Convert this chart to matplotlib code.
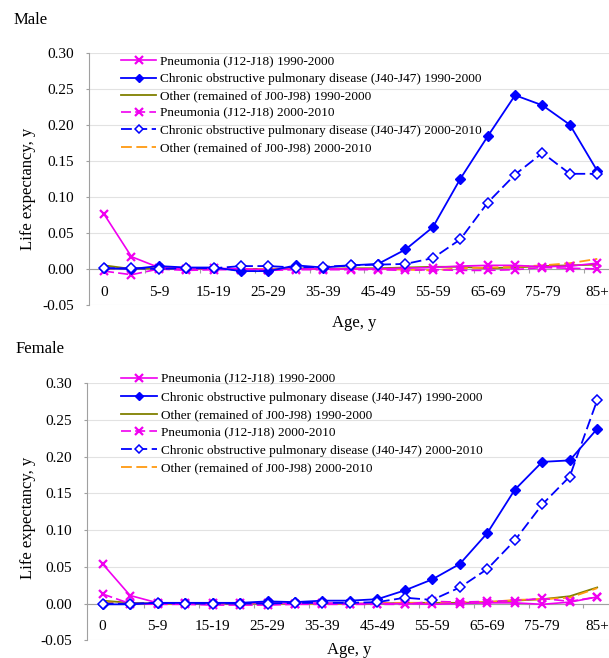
import numpy as np
import matplotlib
matplotlib.use("Agg")
import matplotlib.pyplot as plt

plt.rcParams['font.family'] = ['Liberation Serif', 'DejaVu Serif']

ages = ["0", "1-4", "5-9", "10-14", "15-19", "20-24", "25-29", "30-34", "35-39", "40-44",
        "45-49", "50-54", "55-59", "60-64", "65-69", "70-74", "75-79", "80-84", "85+"]

# male, life expectancy contribution (years)
m_pneu_90 = [0.076, 0.017, 0.002, 0.000, 0.001, 0.000, -0.001, 0.000, 0.000, 0.000,
             0.000, 0.001, 0.002, 0.004, 0.005, 0.005, 0.003, 0.004, 0.008]
m_copd_90 = [0.001, 0.000, 0.004, 0.002, 0.002, -0.003, -0.003, 0.005, 0.002, 0.005,
             0.007, 0.027, 0.058, 0.125, 0.184, 0.241, 0.227, 0.200, 0.136]
m_other_90 = [0.005, 0.000, 0.001, 0.000, 0.000, 0.000, 0.000, 0.001, 0.000, 0.001,
              0.001, 0.002, 0.003, 0.003, 0.001, 0.002, 0.004, 0.005, 0.006]
m_pneu_00 = [-0.003, -0.008, 0.000, -0.002, -0.001, -0.001, -0.002, -0.001, -0.001, -0.001,
             -0.001, -0.002, -0.001, -0.002, -0.002, -0.001, 0.002, 0.001, 0.000]
m_copd_00 = [0.001, 0.001, 0.000, 0.001, 0.001, 0.004, 0.004, 0.002, 0.003, 0.005,
             0.006, 0.007, 0.015, 0.041, 0.092, 0.131, 0.161, 0.132, 0.132]
m_other_00 = [0.000, 0.001, 0.001, 0.001, 0.000, 0.000, 0.000, 0.000, 0.000, 0.000,
              0.000, -0.001, -0.002, 0.001, 0.002, 0.003, 0.005, 0.008, 0.014]

# female
f_pneu_90 = [0.054, 0.011, 0.001, 0.001, 0.001, 0.001, 0.001, 0.000, 0.001, 0.000,
             0.000, 0.000, -0.001, 0.000, 0.001, 0.001, -0.001, 0.002, 0.009]
f_copd_90 = [-0.001, -0.001, 0.001, 0.001, 0.001, 0.001, 0.003, 0.002, 0.004, 0.004,
             0.006, 0.018, 0.033, 0.054, 0.096, 0.155, 0.193, 0.195, 0.238]
f_other_90 = [0.004, 0.001, 0.000, 0.000, 0.000, 0.000, 0.000, 0.000, 0.000, 0.000,
              0.000, 0.001, 0.001, 0.001, 0.002, 0.004, 0.006, 0.010, 0.022]
f_pneu_00 = [0.013, 0.000, -0.001, -0.001, -0.002, -0.002, -0.002, -0.001, -0.001, -0.001,
             -0.001, -0.001, 0.003, 0.002, 0.003, 0.004, 0.007, 0.003, 0.009]
f_copd_00 = [0.000, 0.000, 0.001, 0.000, 0.000, 0.000, 0.000, 0.001, 0.001, 0.001,
             0.002, 0.008, 0.005, 0.022, 0.047, 0.086, 0.135, 0.173, 0.277]
f_other_00 = [0.002, 0.000, 0.000, 0.000, 0.000, -0.001, -0.001, 0.000, 0.000, 0.000,
              0.001, 0.001, 0.001, 0.002, 0.002, 0.005, 0.006, 0.008, 0.021]

labels = ["Pneumonia (J12-J18) 1990-2000",
          "Chronic obstructive pulmonary disease (J40-J47) 1990-2000",
          "Other (remained of J00-J98) 1990-2000",
          "Pneumonia (J12-J18) 2000-2010",
          "Chronic obstructive pulmonary disease (J40-J47) 2000-2010",
          "Other (remained of J00-J98) 2000-2010"]

W, H = 609, 658
fig = plt.figure(figsize=(W / 100, H / 100), dpi=100)

magenta = '#F000F0'
blue = '#0000FF'
olive = '#808000'
orange = '#FF9A10'
dash = (6, 2.5)


def panel(rect, xlim, series, leg_anchor, spacing):
    ax = fig.add_axes(rect)
    x = np.arange(len(ages))
    p90, c90, o90, p00, c00, o00 = series
    ax.plot(x, p90, color=magenta, lw=1.2, marker='x', ms=6, mew=1.6, label=labels[0], zorder=4)
    ax.plot(x, c90, color=blue, lw=1.3, marker='D', ms=5, label=labels[1], zorder=5)
    ax.plot(x, o90, color=olive, lw=1.3, label=labels[2], zorder=3)
    ax.plot(x, p00, color=magenta, lw=1.2, marker='x', ms=6, mew=1.6, dashes=dash,
            label=labels[3], zorder=4)
    ax.plot(x, c00, color=blue, lw=1.3, marker='D', ms=5, mfc='white', mew=1.1, dashes=dash,
            label=labels[4], zorder=5)
    ax.plot(x, o00, color=orange, lw=1.3, dashes=dash, label=labels[5], zorder=3)

    ax.set_xlim(*xlim)
    ax.set_ylim(-0.05, 0.30)
    ax.set_yticks(np.arange(-0.05, 0.301, 0.05))
    ax.set_yticklabels(["%.2f" % v for v in np.arange(-0.05, 0.301, 0.05)])
    ax.set_xticks(x[::2])
    ax.set_xticklabels(ages[::2])
    ax.set_xticks(np.arange(1.5, 18, 2), minor=True)
    ax.tick_params(axis='x', which='major', length=0, pad=12, labelsize=11)
    ax.tick_params(axis='x', which='minor', length=3, width=0.8, color='#A0A0A0', direction='out')
    ax.tick_params(axis='y', length=2.5, width=0.8, color='#A0A0A0', pad=8, labelsize=11)

    ax.grid(axis='y', color='#E2E2E2', lw=0.8)
    ax.set_axisbelow(True)
    for s in ['top', 'right']:
        ax.spines[s].set_visible(False)
    ax.spines['left'].set_color('#A0A0A0')
    ax.spines['bottom'].set_color('#A0A0A0')
    ax.spines['bottom'].set_position(('data', 0))

    ax.legend(loc='upper left', bbox_to_anchor=leg_anchor, frameon=False, fontsize=9.5,
              borderpad=0, borderaxespad=0, handlelength=2.7, handletextpad=0.3,
              labelspacing=spacing, markerscale=0.85)
    return ax


panel([89 / W, 1 - 305 / H, 522 / W, 252.3 / H], (-0.55, 18.5),
      [m_pneu_90, m_copd_90, m_other_90, m_pneu_00, m_copd_00, m_other_00], (0.061, 0.988), 0.38)
panel([87 / W, 1 - 640.3 / H, 522 / W, 257 / H], (-0.57, 18.43),
      [f_pneu_90, f_copd_90, f_other_90, f_pneu_00, f_copd_00, f_other_00], (0.066, 1.038), 0.42)

fig.text(13.5 / W, 1 - 20 / H, "Male", ha='left', va='center', fontsize=12)
fig.text(15.5 / W, 1 - 349 / H, "Female", ha='left', va='center', fontsize=12)
fig.text(28 / W, 1 - 189 / H, "Life expectancy, y", rotation=90, ha='center', va='center', fontsize=12)
fig.text(28 / W, 1 - 518 / H, "Life expectancy, y", rotation=90, ha='center', va='center', fontsize=12)
fig.text(354 / W, 1 - 322.7 / H, "Age, y", ha='center', va='center', fontsize=12)
fig.text(349 / W, 1 - 650 / H, "Age, y", ha='center', va='center', fontsize=12)

fig.savefig("out.png", dpi=100)
